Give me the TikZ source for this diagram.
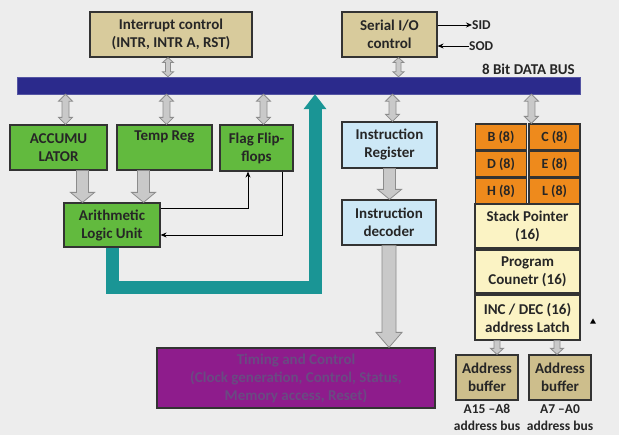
\documentclass[tikz,border=0pt]{standalone}
\usepackage{fontspec}
\setmainfont{Carlito}
\usetikzlibrary{arrows.meta,calc,shapes.geometric}

\definecolor{bgray}{HTML}{EDEDED}
\definecolor{ctrltan}{HTML}{D8CB9C}
\definecolor{buftan}{HTML}{CDBE8C}
\definecolor{alugreen}{HTML}{62BA3E}
\definecolor{irblue}{HTML}{CDE8F6}
\definecolor{regorange}{HTML}{EE8A1C}
\definecolor{ptryellow}{HTML}{FBF3C4}
\definecolor{tcpurple}{HTML}{8E1C8C}
\definecolor{tctext}{HTML}{6A4A82}
\definecolor{busnavy}{HTML}{2B2A8C}
\definecolor{tealc}{HTML}{1A9595}
\definecolor{arrowgray}{HTML}{C9C9C9}
\definecolor{arrowedge}{HTML}{8C8C8C}

% mui ten kep: #1 cho x, #2 dau tren, #3 dau duoi, #4 nua than, #5 nua dau, #6 dai dau
\newcommand{\twoway}[6]{%
  \filldraw[fatarrow] let \p1=#1, \p2=#2, \p3=#3 in
    (\x1,\y2) -- (\x1+#5,\y2-#6) -- (\x1+#4,\y2-#6) -- (\x1+#4,\y3+#6) -- (\x1+#5,\y3+#6)
    -- (\x1,\y3) -- (\x1-#5,\y3+#6) -- (\x1-#4,\y3+#6) -- (\x1-#4,\y2-#6) -- (\x1-#5,\y2-#6) -- cycle;}
% mui ten xuong
\newcommand{\fatdown}[6]{%
  \filldraw[fatarrow] let \p1=#1, \p2=#2, \p3=#3 in
    (\x1-#4,\y2) -- (\x1-#4,\y3+#6) -- (\x1-#5,\y3+#6) -- (\x1,\y3)
    -- (\x1+#5,\y3+#6) -- (\x1+#4,\y3+#6) -- (\x1+#4,\y2) -- cycle;}

\begin{document}
\begin{tikzpicture}[x=1pt, y=-1pt, >={Stealth[length=6pt,width=5pt]},
    box/.style={draw=black!80, line width=1.2pt, inner sep=0pt, align=center, text=black!85,
      font=\bfseries\fontsize{15}{18}\selectfont},
    ctrl/.style={box, fill=ctrltan},
    alubox/.style={box, fill=alugreen},
    irbox/.style={box, fill=irblue},
    reg/.style={box, fill=regorange, minimum width=51pt, minimum height=26pt,
      font=\bfseries\fontsize{14}{16}\selectfont},
    ptr/.style={box, fill=ptryellow, minimum width=105pt},
    buf/.style={box, fill=buftan, minimum width=62pt, minimum height=45pt},
    lbl/.style={inner sep=0pt, text=black!85, font=\bfseries\fontsize{13.5}{17}\selectfont, align=center},
    fatarrow/.style={fill=arrowgray, draw=arrowedge, line width=0.8pt, line join=miter},
    alupath/.style={draw=tealc, line width=13pt, line join=miter, -{Triangle[width=22pt,length=15pt]}}]
  \fill[bgray] (0,0) rectangle (619,435);
  \useasboundingbox (0,0) rectangle (619,435);

  % khoi dieu khien
  \node[ctrl, minimum width=162pt, minimum height=45pt] (intr) at (171,34.5) {Interrupt control\\(INTR, INTR A, RST)};
  \node[ctrl, minimum width=95pt, minimum height=45pt] (serial) at (389.5,34.5) {Serial I/O\\control};
  \node[lbl, anchor=west] (sid) at (472,25) {SID};
  \node[lbl, anchor=west] (sod) at (469,46) {SOD};
  \draw[->, thick] (serial.east |- sid) -- (sid.west);
  \draw[<-, thick] (serial.east |- sod) -- (sod.west);

  % bus du lieu
  \node[fill=busnavy, draw=busnavy!80!white, minimum width=563pt, minimum height=17pt, inner sep=0pt] (bus) at (298.5,85.5) {};
  \node[lbl, anchor=south east, font=\bfseries\fontsize{15}{17}\selectfont] (buslbl) at (575,75) {8 Bit DATA BUS};

  % ALU
  \node[alubox, minimum width=97pt, minimum height=45pt] (acc) at (58.5,147.5) {ACCUMU\\LATOR};
  \node[alubox, minimum width=95pt, minimum height=45pt] (temp) at (164.5,147.5) {Temp Reg\\\strut};
  \node[alubox, minimum width=73pt, minimum height=46pt] (flag) at (256.5,148) {Flag Flip-\\flops};
  \node[alubox, minimum width=96pt, minimum height=44pt] (alu) at (112,225) {Arithmetic\\Logic Unit};

  % lenh
  \node[irbox, minimum width=95pt, minimum height=46pt] (ir) at (389.5,145) {Instruction\\Register};
  \node[irbox, minimum width=94pt, minimum height=45pt] (dec) at (389,222.5) {Instruction\\decoder};
  \node[box, fill=tcpurple, text=tctext, minimum width=278pt, minimum height=60pt] (timing) at (296,378)
    {Timing and Control\\(Clock generation, Control, Status,\\Memory access, Reset)};

  % thanh ghi
  \foreach \l/\r [count=\i] in {B/C, D/E, H/L} {
    \node[reg] (reg\l) at (501,110+27*\i) {\l\ (8)};
    \node[reg] (reg\r) at (554.5,110+27*\i) {\r\ (8)};
  }
  \node[ptr, minimum height=44pt] (sp) at (527.5,226) {Stack Pointer\\(16)};
  \node[ptr, minimum height=43pt] (pc) at (527.5,271.5) {Program\\Counetr (16)};
  \node[ptr, minimum height=45pt] (latch) at (527.5,317.5) {INC / DEC (16)\\address Latch};
  \node[regular polygon, regular polygon sides=3, fill=black, inner sep=0pt, minimum size=7pt] (mark) at (593,322) {};
  \node[buf] (buf1) at (487,377.5) {Address\\buffer};
  \node[buf] (buf2) at (560,377.5) {Address\\buffer};
  \node[lbl, anchor=north] (abus1) at (487,404) {A15 --A8\\address bus};
  \node[lbl, anchor=north] (abus2) at (560,404) {A7 --A0\\address bus};

  % mui ten xam
  \twoway{([xshift=-3pt]intr.south)}{(intr.south)}{(bus.north)}{2.5pt}{5.5pt}{5pt}
  \twoway{([xshift=9pt]serial.south)}{(serial.south)}{(bus.north)}{2.5pt}{5.5pt}{5pt}
  \twoway{([xshift=7pt]acc.north)}{(bus.south)}{(acc.north)}{3.5pt}{7pt}{7pt}
  \twoway{([xshift=2pt]temp.north)}{(bus.south)}{(temp.north)}{3.5pt}{7pt}{7pt}
  \twoway{([xshift=7pt]flag.north)}{(bus.south)}{(flag.north)}{3.5pt}{7pt}{7pt}
  \twoway{([xshift=3pt]ir.north)}{(bus.south)}{(ir.north)}{3.5pt}{7pt}{7pt}
  \twoway{([xshift=3pt]regC.north west)}{(bus.south)}{(regC.north west)}{3.5pt}{7pt}{7pt}
  \fatdown{([xshift=24pt]acc.south)}{(acc.south)}{(alu.north)}{6pt}{12pt}{10pt}
  \fatdown{([xshift=-21pt]temp.south)}{(temp.south)}{(alu.north)}{6pt}{12pt}{10pt}
  \fatdown{(ir.south)}{(ir.south)}{(dec.north)}{6pt}{12pt}{10pt}
  \fatdown{(dec.south)}{(dec.south)}{(timing.north)}{7pt}{13pt}{15pt}
  \fatdown{([xshift=10pt]buf1.north)}{(latch.south)}{(buf1.north)}{3pt}{6.5pt}{6pt}
  \fatdown{([xshift=-3pt]buf2.north)}{(latch.south)}{(buf2.north)}{3pt}{6.5pt}{6pt}

  % co
  \draw[->, thick] ([yshift=17pt]alu.east) -| ([xshift=-8.5pt]flag.south);
  \draw[->, thick] ([xshift=25.5pt]flag.south) |- ([yshift=-10pt]alu.east);

  % duong ket qua ALU
  \coordinate (loop) at (315,288);
  \draw[alupath] (alu.south) |- (loop) -- ([xshift=16.5pt]bus.south);
\end{tikzpicture}
\end{document}
